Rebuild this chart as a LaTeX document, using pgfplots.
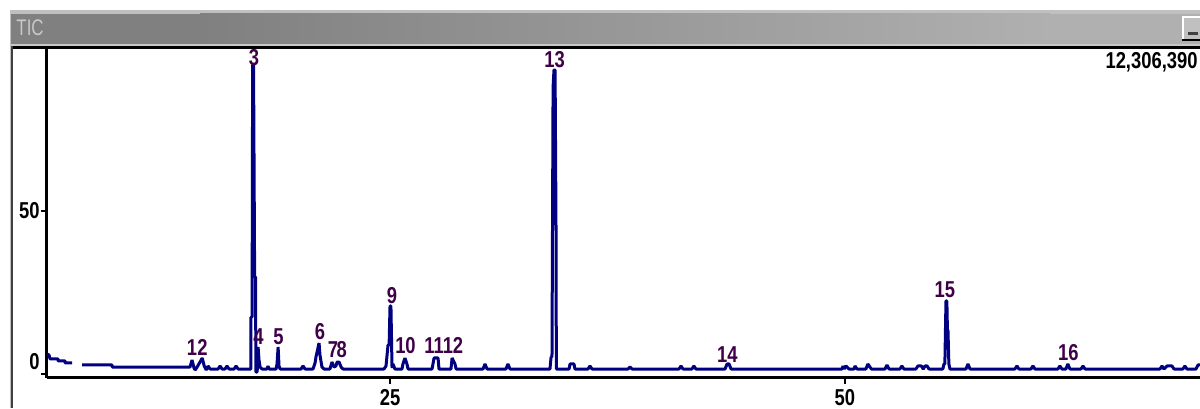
\documentclass[border=0pt]{standalone}
\usepackage{pgfplots}
\pgfplotsset{compat=1.18}
\usepackage{fontspec}
\setmainfont{Liberation Sans}
\newfontfamily\chfont{Liberation Sans}[FakeStretch=0.8]
\newfontfamily\ticfont{Liberation Sans}[FakeStretch=0.75]
\definecolor{trace}{RGB}{0,0,128}
\definecolor{lab}{RGB}{64,0,72}
\definecolor{barL}{RGB}{128,128,128}
\definecolor{barR}{RGB}{176,176,176}
\definecolor{lgray}{RGB}{192,192,192}
\definecolor{mgray}{RGB}{200,200,200}
\definecolor{dgray}{RGB}{64,64,64}
\newcommand{\lf}{\chfont\bfseries\fontsize{11.5}{13}\selectfont}
\begin{document}
\begin{tikzpicture}
\path[use as bounding box] (0,0) rectangle (600pt,204pt);
\begin{scope}[shift={(0pt,204pt)},x=0.5pt,y=-0.5pt]
  \fill[white] (0,0) rectangle (1200,408);
  \fill[lgray] (11,10) rectangle (1200,14);
  \fill[barL] (11,14) rectangle (200,44);
  \shade[left color=barL,right color=barR] (200,14) rectangle (1050,44);
  \fill[barR] (1050,14) rectangle (1200,44);
  \fill[mgray] (11,44) rectangle (1200,46);
  \fill[black] (11,46) rectangle (1200,49);
  \fill[lgray] (10,10) rectangle (11.2,408);
  \fill[dgray] (11.2,46) rectangle (12.8,408);
  \fill[lgray] (1182,16) rectangle (1200,41);
  \draw[white,line width=0.75pt] (1182.8,40) -- (1182.8,16.8) -- (1200,16.8);
  \fill[black] (1182,39) rectangle (1200,41);
  \fill[dgray] (1188,32) rectangle (1198,35);
  \node[anchor=west,inner sep=0pt,text=mgray,font=\ticfont\fontsize{11.3}{12}\selectfont] at (16,28) {TIC};
  \node[anchor=north east,inner sep=0pt,font=\lf] at (1198,52) {12,306,390};
\end{scope}
\begin{axis}[
  at={(23.5pt,15.25pt)}, anchor=south west,
  scale only axis, width=576.5pt, height=164.75pt,
  xmin=6.15, xmax=69.51, ymin=-0.92, ymax=99.85,
  axis x line*=bottom, axis y line*=left,
  axis line style={line width=1.5pt,black},
  xtick={25,50}, ytick={0,50}, yticklabels={,50},
  tick align=outside, major tick length=3pt,
  tick style={line width=1pt,black},
  ticklabel style={font=\lf,inner sep=0pt},
  yticklabel style={anchor=east,xshift=-0.5pt},
  xticklabel style={anchor=north,yshift=-3pt},
  /pgf/number format/assume math mode=true,
  clip=false,
]
\addplot[trace,line width=1.5pt,line join=bevel] coordinates {
(6.15,6.27)(6.26,5.96)(6.32,4.74)(6.76,4.74)(6.76,4.13)(7.14,4.13)(7.14,3.52)(7.53,3.52)};
\addplot[trace,line width=1.5pt,line join=bevel] coordinates {
(8.08,2.91)(9.73,2.91)(9.73,2.29)(14.01,2.29)
(14.12,4.43)(14.23,1.99)(14.29,1.38)(14.40,2.29)(14.56,3.82)(14.68,5.05)(14.79,2.60)(14.90,1.38)(15.00,2.60)(15.11,1.68)
(15.55,1.68)(15.66,2.60)(15.77,1.68)(15.93,1.68)(16.04,2.60)(16.15,1.68)(16.43,1.68)(16.54,2.60)(16.65,1.68)
(17.36,1.68)(17.36,17.58)(17.42,17.58)(17.45,94.65)(17.50,94.65)(17.56,29.82)(17.61,29.82)(17.63,0.76)(17.70,0.76)(17.75,8.41)(17.80,4.43)(17.86,2.29)(17.97,1.68)
(18.24,1.68)(18.30,2.60)(18.35,1.68)
(18.74,1.68)(18.79,3.21)(18.85,8.41)(18.90,2.60)(18.96,1.68)
(20.11,1.68)(20.22,2.60)(20.33,1.68)
(20.77,1.68)(20.88,3.52)(20.93,5.35)(21.10,9.63)(21.15,5.96)(21.26,2.29)(21.37,1.68)
(21.70,1.68)(21.81,3.82)(21.92,2.29)(22.03,2.60)(22.09,3.82)(22.20,3.82)(22.31,2.29)(22.42,1.68)
(24.67,1.68)(24.78,2.60)(24.89,9.02)(24.95,9.02)(25.00,20.95)(25.05,20.95)(25.11,1.99)(25.16,3.21)(25.27,1.68)
(25.66,1.68)(25.71,3.21)(25.82,5.05)(25.93,3.21)(25.99,1.68)
(27.31,1.68)(27.36,3.21)(27.42,5.05)(27.64,5.05)(27.69,1.68)
(28.35,1.68)(28.41,5.05)(28.57,3.21)(28.63,1.68)
(30.11,1.68)(30.22,3.21)(30.33,1.68)
(31.37,1.68)(31.48,3.21)(31.59,1.68)
(33.79,1.68)(33.85,5.35)(33.90,5.35)(33.96,87.92)(34.01,93.12)(34.07,93.12)(34.12,46.64)(34.14,1.68)
(34.84,1.68)(34.89,3.21)(35.11,3.21)(35.16,1.68)
(35.88,1.68)(35.99,2.60)(36.10,1.68)
(38.08,1.68)(38.19,2.29)(38.30,1.68)
(40.88,1.68)(40.99,2.60)(41.10,1.68)
(41.59,1.68)(41.70,2.60)(41.81,1.68)
(43.41,1.68)(43.52,3.21)(43.63,3.21)(43.74,1.68)
(49.84,1.68)(49.89,2.60)(49.95,1.68)(50.05,2.60)(50.11,2.29)(50.22,1.68)
(50.50,1.68)(50.55,2.60)(50.66,1.68)
(51.15,1.68)(51.26,3.21)(51.37,2.29)(51.45,1.68)
(52.20,1.68)(52.31,2.91)(52.42,1.68)
(53.02,1.68)(53.13,2.60)(53.24,1.68)
(53.90,1.68)(54.01,2.60)(54.20,2.60)(54.30,1.68)(54.40,2.60)(54.51,2.60)(54.62,1.68)
(55.38,1.68)(55.44,3.21)(55.49,3.21)(55.55,22.48)(55.60,22.48)(55.63,13.61)(55.66,13.61)(55.71,3.21)(55.77,1.68)
(56.65,1.68)(56.76,3.21)(56.87,1.68)
(59.34,1.68)(59.45,2.60)(59.56,1.68)
(60.22,1.68)(60.33,2.60)(60.44,1.68)
(61.70,1.68)(61.81,2.60)(61.92,1.68)
(62.14,1.68)(62.25,3.21)(62.36,1.68)
(62.97,1.68)(63.08,2.60)(63.19,1.68)
(67.31,1.68)(67.42,2.60)(67.53,1.68)(67.69,2.60)(67.97,2.60)(68.08,1.68)
(68.57,1.68)(68.68,2.60)(68.79,1.68)
(69.29,1.68)(69.40,2.91)(69.51,2.91)};
\node[anchor=east,inner sep=0pt,font=\lf,xshift=-3.5pt,yshift=6.25pt] at (axis cs:6.15,0) {0};
\begin{scope}[every node/.style={inner sep=0pt,text=lab,font=\lf}]
\node at (axis cs:14.12,8.26) {1};
\node at (axis cs:14.70,8.26) {2};
\node at (axis cs:17.53,96.94) {3};
\node at (axis cs:17.77,11.47) {4};
\node at (axis cs:18.87,11.47) {5};
\node at (axis cs:21.15,13.15) {6};
\node at (axis cs:21.87,7.65) {7};
\node at (axis cs:22.34,7.65) {8};
\node at (axis cs:25.11,24.16) {9};
\node at (axis cs:25.85,8.87) {10};
\node at (axis cs:27.42,8.87) {11};
\node at (axis cs:28.46,8.87) {12};
\node at (axis cs:34.04,96.33) {13};
\node at (axis cs:43.54,5.96) {14};
\node at (axis cs:55.49,25.84) {15};
\node at (axis cs:62.28,6.57) {16};
\end{scope}
\end{axis}
\end{tikzpicture}
\end{document}
